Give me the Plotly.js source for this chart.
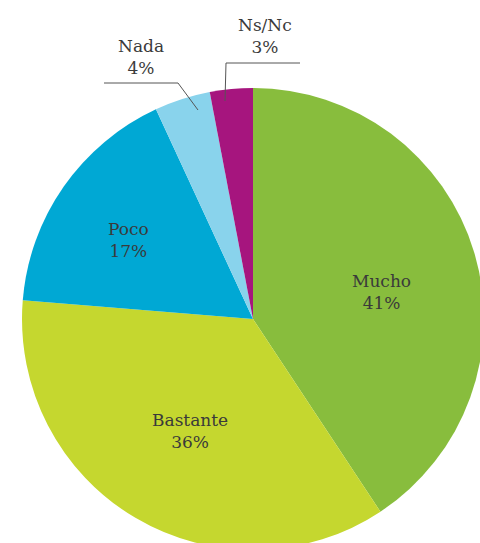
<!DOCTYPE html>
<html>
<head>
<meta charset="utf-8">
<script src="https://cdn.plot.ly/plotly-3.0.1.min.js"></script>
<style>
html,body{margin:0;padding:0;background:#fff;overflow:hidden;width:480px;height:543px;}
#chart{position:absolute;left:0;top:0;width:500px;height:560px;}
</style>
</head>
<body>
<div id="chart"></div>
<script>
// Data
var categories = ['Mucho', 'Bastante', 'Poco', 'Nada', 'Ns/Nc'];
var values = [40.7, 35.6, 16.8, 3.9, 3.0];
var colors = ['#88bd3d', '#c5d72f', '#00a8d4', '#89d3ec', '#a6157e'];

var W = 500, H = 560;
function px(x){ return x / W; }
function py(y){ return 1 - y / H; }

var total = values.reduce(function(a,b){return a+b;}, 0);
var FONT = 'DejaVu Serif';
var TXT = '#3a3a3a';

var trace = {
  type: 'pie',
  labels: categories,
  values: values,
  sort: false,
  direction: 'clockwise',
  rotation: 0,
  marker: {colors: colors, line: {width: 0}},
  textinfo: 'none',
  hoverinfo: 'none',
  showlegend: false,
  domain: {x: [px(22), px(484)], y: [py(550), py(88)]}
};

// label positions (centre of the two-line label, pixels)
var labelPos = {
  'Mucho':    {x: 381, y: 292},
  'Bastante': {x: 190, y: 431},
  'Poco':     {x: 128, y: 240},
  'Nada':     {x: 141, y: 57},
  'Ns/Nc':    {x: 265, y: 36}
};
var annotations = categories.map(function(c, i){
  var p = labelPos[c];
  return {
    xref: 'paper', yref: 'paper',
    x: px(p.x), y: py(p.y),
    xanchor: 'center', yanchor: 'middle',
    text: c + '<br>' + Math.round(values[i] / total * 100) + '%',
    showarrow: false,
    font: {family: FONT, size: 17, color: TXT, weight: 300}
  };
});

var lineStyle = {color: '#555555', width: 1};
var shapes = [
  {type: 'path', xref: 'paper', yref: 'paper',
   path: 'M ' + px(104) + ' ' + py(83) + ' L ' + px(178) + ' ' + py(83) + ' L ' + px(198) + ' ' + py(110),
   line: lineStyle},
  {type: 'path', xref: 'paper', yref: 'paper',
   path: 'M ' + px(300) + ' ' + py(63) + ' L ' + px(226) + ' ' + py(63) + ' L ' + px(225) + ' ' + py(101),
   line: lineStyle}
];

var layout = {
  width: W, height: H,
  margin: {l: 0, r: 0, t: 0, b: 0},
  paper_bgcolor: '#ffffff',
  plot_bgcolor: '#ffffff',
  showlegend: false,
  annotations: annotations,
  shapes: shapes
};

Plotly.newPlot('chart', [trace], layout, {staticPlot: true, displayModeBar: false});
</script>
</body>
</html>
